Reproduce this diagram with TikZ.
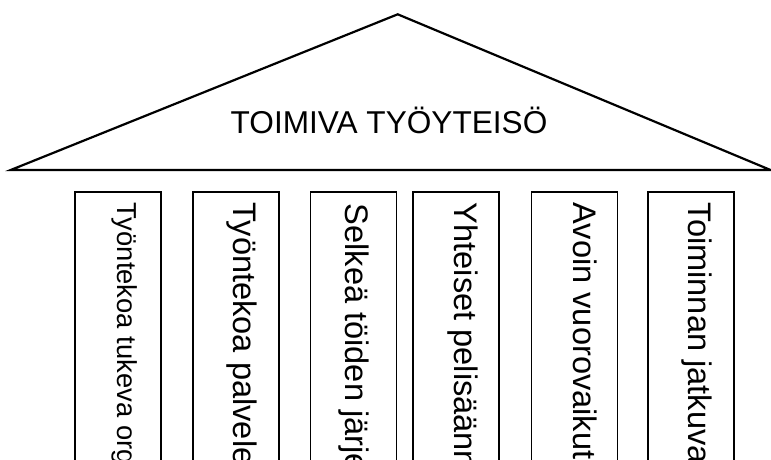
\documentclass[tikz,border=0pt]{standalone}
\usepackage{fontspec}
\setmainfont{Liberation Sans}
\begin{document}
\begin{tikzpicture}[x=1pt,y=-1pt,
  roof/.style={draw=black,line width=2.2pt,line join=miter},
  pillarbox/.style={draw=black,line width=1.8pt,minimum width=86pt,minimum height=320pt,anchor=north west,inner sep=0pt,outer sep=0pt},
  ptext/.style={rotate=-90,anchor=west,inner sep=0pt,text height=0.75em,text depth=0.21em,font=\fontsize{32.6}{36}\selectfont},
  ptextsmall/.style={ptext,font=\fontsize{27.4}{30}\selectfont},
  title/.style={anchor=base,inner sep=0pt,font=\fontsize{31.6}{36}\selectfont}]
\useasboundingbox (0,0) rectangle (771,459);
\clip (0,0) rectangle (771,459);
% roof
\coordinate (L) at (10.7,170);
\coordinate (A) at (397.7,14.3);
\coordinate (R) at (770.5,170);
\draw[roof] (L) -- (A) -- (R) -- cycle;
\node[title] (t) at (389,133.3) {TOIMIVA TYÖYTEISÖ};
% pillars
\node[pillarbox] (p1) at (75,191.7) {};
\node[pillarbox] (p2) at (192.7,191.7) {};
\node[pillarbox] (p3) at (310.5,191.7) {};
\node[pillarbox] (p4) at (413.3,191.7) {};
\node[pillarbox] (p5) at (531.5,191.7) {};
\node[pillarbox] (p6) at (648.3,191.7) {};
% pillar texts
\node[ptextsmall] (l1) at (120.2,202.5) {Työntekoa tukeva org};
\node[ptext] (l2) at (236.2,202.5) {Työntekoa palvele};
\node[ptext] (l3) at (348.6,203.5) {Selkeä töiden järje};
\node[ptext] (l4) at (457.2,202.5) {Yhteiset pelisäänn};
\node[ptext] (l5) at (576.2,202.5) {Avoin vuorovaikut};
\node[ptext] (l6) at (691.2,202.5) {Toiminnan jatkuva};
\end{tikzpicture}
\end{document}
